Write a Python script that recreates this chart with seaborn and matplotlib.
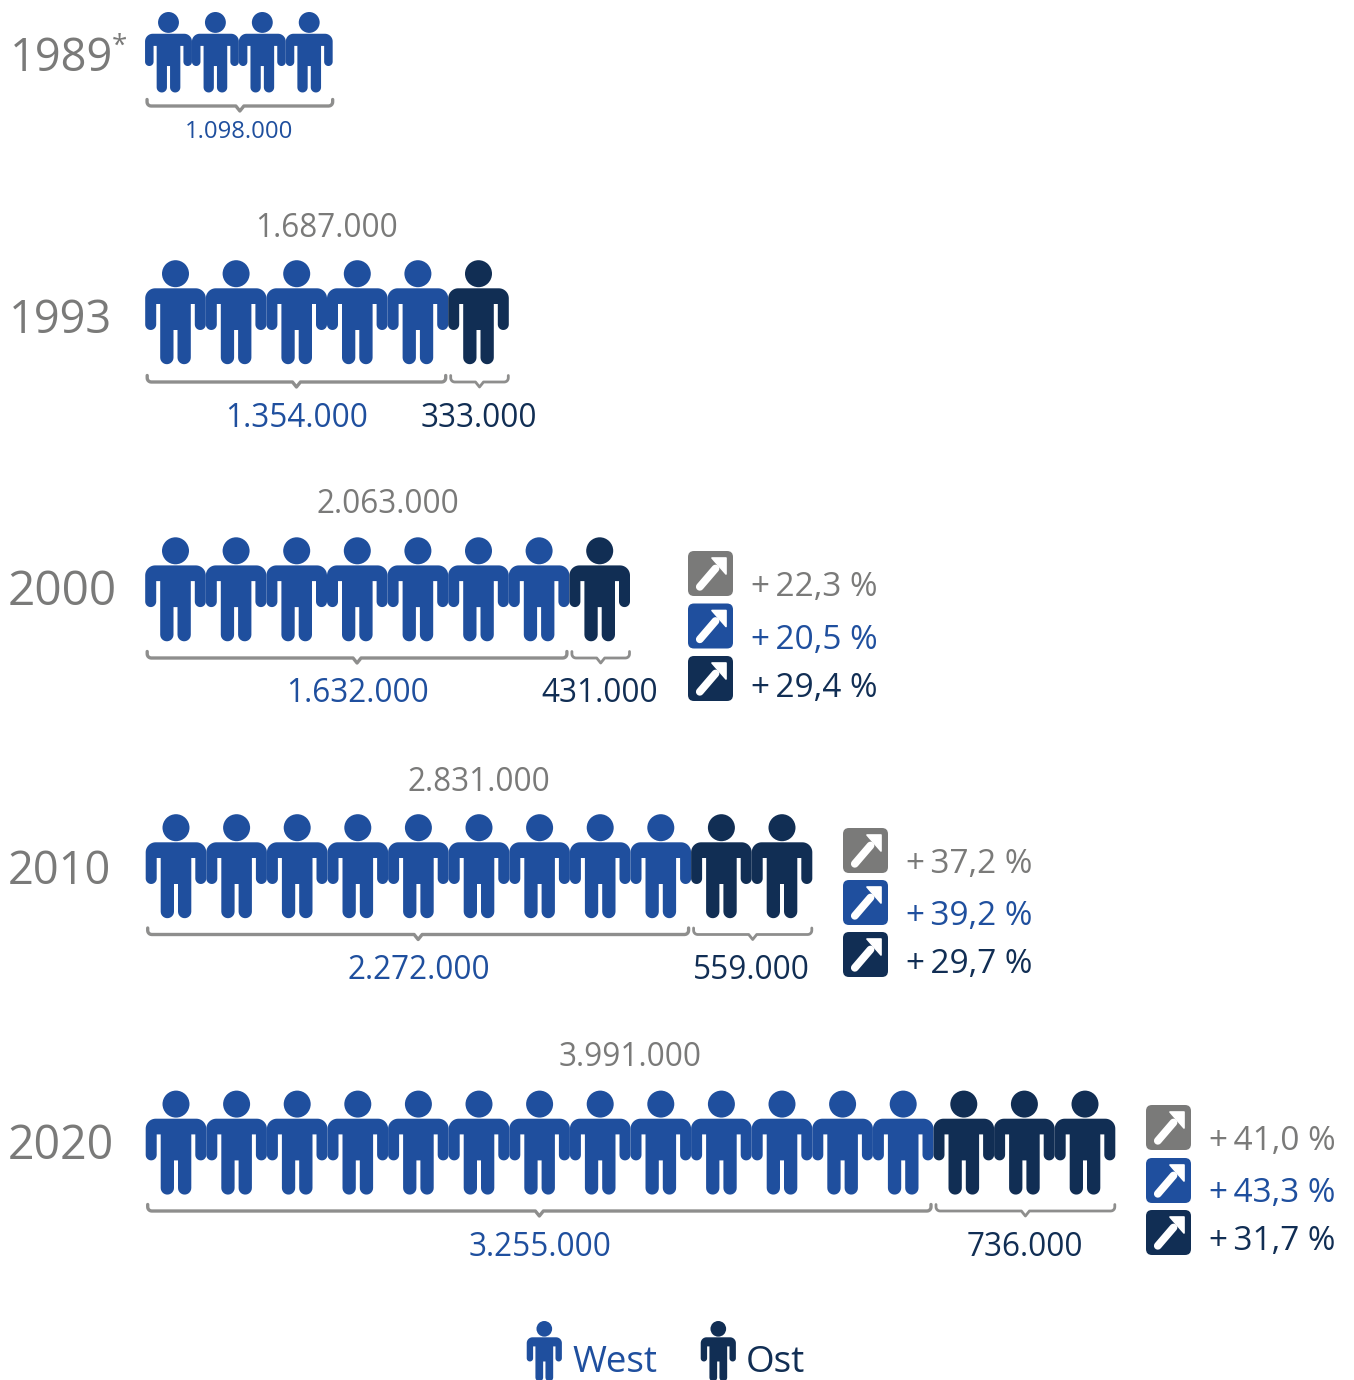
import numpy as np
import pandas as pd
import matplotlib
matplotlib.use("Agg")
import matplotlib.pyplot as plt
from matplotlib.path import Path
from matplotlib.patches import FancyBboxPatch, Polygon
import seaborn as sns

# ---- data ----
years = ["1989", "1993", "2000", "2010", "2020"]
west_icons = [4, 5, 7, 9, 13]
east_icons = [0, 1, 1, 2, 3]
totals = [None, 1687000, 2063000, 2831000, 3991000]
west_values = [1098000, 1354000, 1632000, 2272000, 3255000]
east_values = [None, 333000, 431000, 559000, 736000]
pct_total = [None, None, 22.3, 37.2, 41.0]
pct_west = [None, None, 20.5, 39.2, 43.3]
pct_east = [None, None, 29.4, 29.7, 31.7]

# ---- style ----
GREY, WEST, EAST = "#7a7a79", "#1f4f9e", "#112e54"
BRACE = "#8e8e8d"
sns.set_theme(style="white")
plt.rcParams["font.family"] = ["Open Sans", "DejaVu Sans"]

fig = plt.figure(figsize=(13.54, 13.80), dpi=100)
ax = fig.add_axes([0, 0, 1, 1])

# ---- layout (pixels) ----
FULL_H = 104.0
PITCH = 60.6
row_x0 = [168.5, 175.5, 175.5, 176.0, 176.0]
row_ytop = [12.0, 260.2, 537.3, 814.2, 1090.6]
row_scale = [0.774, 1, 1, 1, 1]
year_x = [10, 9, 8, 8, 8]
year_base = [71, 333, 605, 884, 1159]
year_size = [32.5, 32.5, 34.5, 32.5, 33.5]
total_base = [None, 237, 513, 791, 1066]
value_base = [137.5, 427, 702, 979, 1256]
brace_y = [106, 382, 658, 934.5, 1211]
badge_x = [None, None, 688, 843, 1146]
badge_y = [None, None, (551, 603.5, 656), (828, 880, 932), (1105, 1158, 1210)]
pct_base_off = [None, None, (45, 98, 146), (45, 97, 145), (45, 97, 145)]


def arc(cx, cy, r, a0, a1, n=14):
    t = np.radians(np.linspace(a0, a1, n))
    return np.column_stack([cx + r * np.cos(t), cy + r * np.sin(t)])


def person_path():
    right = np.vstack([
        [[0, 23.9], [20.3, 23.9]],
        arc(20.3, 13.9, 10, 90, 0),
        arc(24.8, -12.3, 5.5, 0, -180),
        [[19.3, 8.2], [15.3, 8.2]],
        arc(8.65, -45.35, 6.65, 0, -180),
        [[2, -17.8], [0, -17.8]],
    ])
    left = right[::-1].copy()
    left[:, 0] *= -1
    pts = np.vstack([right, left[1:]])
    codes = [Path.MOVETO] + [Path.LINETO] * (len(pts) - 1)
    body = Path(pts, codes)
    head = Path.circle((0, 38.5), 13.5)
    return Path.make_compound_path(body, head)


PERSON = person_path()


def size_for(scale):
    # marker is normalised to the path's largest extent (52 -> half the size)
    return (FULL_H * scale * 72 / fig.dpi) ** 2


rows = []
for i, yr in enumerate(years):
    pitch = PITCH * row_scale[i]
    yc = row_ytop[i] + FULL_H * row_scale[i] / 2
    for k in range(west_icons[i] + east_icons[i]):
        rows.append(dict(x=row_x0[i] + k * pitch, y=yc, scale=row_scale[i],
                         region="West" if k < west_icons[i] else "Ost"))
# legend icons
LEG_SCALE = 0.58
for xc, reg in ((544.3, "West"), (718.3, "Ost")):
    rows.append(dict(x=xc, y=1321 + FULL_H * LEG_SCALE / 2, scale=LEG_SCALE, region=reg))
people = pd.DataFrame(rows)

for scale, sub in people.groupby("scale"):
    sns.scatterplot(data=sub, x="x", y="y", hue="region",
                    palette={"West": WEST, "Ost": EAST}, marker=PERSON,
                    s=size_for(scale), edgecolor="none", linewidth=0,
                    legend=False, ax=ax)


def brace(x0, x1, y, lw=2.4):
    mid = (x0 + x1) / 2
    t = np.linspace(0, np.pi / 2, 6)
    pts = np.vstack([
        [[x0, y - 6.5]],
        np.column_stack([x0 + 4 - 4 * np.cos(t), y - 4 + 4 * np.sin(t)]),
        [[mid - 4, y], [mid, y + 5], [mid + 4, y]],
        np.column_stack([x1 - 4 + 4 * np.sin(t), y - 4 + 4 * np.cos(t)]),
        [[x1, y - 6.5]],
    ])
    ax.plot(pts[:, 0], pts[:, 1], color=BRACE, lw=lw, solid_capstyle="round",
            solid_joinstyle="round")


def fmt(v):
    return f"{v:,}".replace(",", ".")


def badge(x, y, colour):
    ax.add_patch(FancyBboxPatch((x, y), 45, 45, boxstyle="round,pad=0,rounding_size=6",
                                fc=colour, ec="none"))
    cx, cy = x + 22.5, y + 22.5
    ax.add_patch(Polygon([(cx + 15.5, cy - 15.5), (cx + 1.5, cy - 15.5), (cx + 15.5, cy + 0.5)],
                         closed=True, fc="white", ec="white", lw=1.2, joinstyle="round"))
    ax.plot([cx + 5, cx - 10.7], [cy - 5, cy + 13.3], color="white", lw=5.6,
            solid_capstyle="round")


for i, yr in enumerate(years):
    s = row_scale[i]
    half = PITCH * s / 2
    x0 = row_x0[i]
    n_w, n_e = west_icons[i], east_icons[i]
    boundary = x0 - half + n_w * 2 * half
    ybr = brace_y[i]
    ytxt = value_base[i]

    # year label
    ax.text(year_x[i], year_base[i], yr, color=GREY,
            fontsize=year_size[i], ha="left", va="baseline")
    if i == 0:
        ax.text(112, 54, "*", color=GREY, fontsize=20, ha="left", va="baseline")

    # west brace + value
    mid_w = x0 + (n_w - 1) * half
    brace(x0 - half + 2, boundary - (2.5 if n_e else 0), ybr)
    ax.text(mid_w, ytxt, fmt(west_values[i]), color=WEST, ha="center", va="baseline",
            fontsize=22.7 if i else 17.1)

    # east brace + value
    if n_e:
        mid_e = boundary + n_e * half
        brace(boundary + 2.5, x0 + (n_w + n_e - 1) * 2 * half + half - 0.5, ybr, lw=2.0)
        ax.text(mid_e, ytxt, fmt(east_values[i]), color=EAST, ha="center", va="baseline",
                fontsize=22.7)

    # total label
    if totals[i] is not None:
        ax.text(x0 + (n_w + n_e - 1) * half, total_base[i], fmt(totals[i]), color=GREY,
                ha="center", va="baseline", fontsize=22.7)

    # changes
    if pct_total[i] is not None:
        vals = (pct_total[i], pct_west[i], pct_east[i])
        for val, col, by, off in zip(vals, (GREY, WEST, EAST), badge_y[i], pct_base_off[i]):
            badge(badge_x[i], by, col)
            ax.text(badge_x[i] + 63, badge_y[i][0] + off,
                    f"+\u2009{val:.1f} %".replace(".", ","),
                    color=col, ha="left", va="baseline", fontsize=24)

# legend text
ax.text(572, 1372, "West", color=WEST, fontsize=26.5, ha="left", va="baseline")
ax.text(746, 1372, "Ost", color=EAST, fontsize=26.5, ha="left", va="baseline")

ax.set_xlim(0, 1354)
ax.set_ylim(1380, 0)
ax.axis("off")
fig.savefig("out.png", dpi=100, facecolor="white")
